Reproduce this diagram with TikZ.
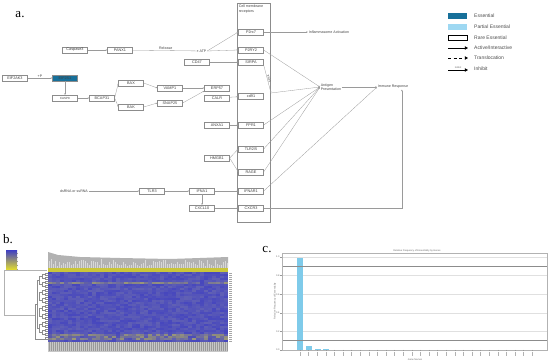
\documentclass[tikz,border=0pt]{standalone}
\usepackage{fontspec}
\setmainfont{Liberation Serif}
\setsansfont{Liberation Sans}
\usetikzlibrary{calc,positioning,arrows.meta}
\definecolor{essencial}{HTML}{17709A}
\definecolor{parcial}{HTML}{9ED8F2}
\definecolor{linha}{HTML}{9A9A9A}
\definecolor{hazul}{HTML}{4646BE}
\definecolor{hcinza}{HTML}{8080A8}
\definecolor{hamarelo}{HTML}{E6E02A}
\definecolor{barra}{HTML}{7FCBEA}

\begin{document}
\begin{tikzpicture}[x=1pt,y=-1pt,
    gene/.style={draw=black!45, line width=0.3pt, fill=white, minimum width=25pt, minimum height=5.5pt,
      inner sep=0pt, font=\sffamily\fontsize{3.8}{4}\selectfont, text=black!75},
    rotulo/.style={font=\sffamily\fontsize{3.6}{4.2}\selectfont, text=black!75, inner sep=0.6pt},
    painel/.style={font=\rmfamily\fontsize{13}{14}\selectfont, inner sep=0pt},
    minusc/.style={font=\sffamily\fontsize{2.4}{3}\selectfont, text=black!60, inner sep=0.3pt},
    legenda/.style={font=\sffamily\fontsize{5}{6}\selectfont, text=black!70, anchor=west, inner sep=0pt},
    seta/.style={-{Latex[length=1.6pt,width=1.5pt]}, line width=0.3pt, linha},
    setaleg/.style={-{Triangle[length=3.2pt,width=3.4pt]}, line width=0.9pt, black}]
  \useasboundingbox (0,0) rectangle (550,363);
  % painel a
  \node[painel] (pa) at (20,15) {a.};
  \node[draw=black!45, line width=0.3pt, minimum width=33pt, minimum height=219pt, anchor=north west, inner sep=0pt] (memb) at (237,3) {};
  \node[rotulo, align=left, anchor=north west] (membtxt) at (238,4.5) {Cell membrane\\receptors};
  \node[gene] (casp3) at (75,50) {Caspase3};
  \node[gene] (panx1) at (120,50) {PANX1};
  \node[rotulo] (atp) at (203,51) {ATP};
  \node[gene] (eif2ak3) at (15,78) {EIF2AK3};
  \node[gene, fill=essencial] (eif2s1) at (65,78) {EIF2S1};
  \node[gene, font=\sffamily\fontsize{3}{3.5}\selectfont] (casp8) at (65,98) {CASP8};
  \node[gene] (bcap31) at (102,98) {BCAP31};
  \node[gene] (bax) at (131,83) {BAX};
  \node[gene] (bak) at (131,107) {BAK};
  \node[gene] (vamp1) at (170,88) {VAMP1};
  \node[gene] (snap25) at (170,103) {SNAP25};
  \node[gene] (erp57) at (217,88) {ERP57};
  \node[gene] (calr) at (217,98) {CALR};
  \node[gene] (cd47) at (197,62) {CD47};
  \node[gene] (anxa1) at (217,125) {ANXA1};
  \node[gene] (hmgb1) at (217,158) {HMGB1};
  \node[gene] (ifna1) at (202,191) {IFNA1};
  \node[gene] (cxcl10) at (202,208) {CXCL10};
  \node[gene] (tlr3) at (152,191) {TLR3};
  \node[rotulo] (rna) at (74,191) {dsRNA or ssRNA};
  % receptores
  \node[gene] (p2rx7) at (251,32) {P2rx7};
  \node[gene] (p2ry2) at (251,50) {P2RY2};
  \node[gene] (sirpa) at (251,62) {SIRPA};
  \node[gene] (cd91) at (251,96) {cd91};
  \node[gene] (fpr1) at (251,125) {FPR1};
  \node[gene] (tlr25) at (251,149) {TLR2/5};
  \node[gene] (rage) at (251,172) {RAGE};
  \node[gene] (ifnar1) at (251,191) {IFNAR1};
  \node[gene] (cxcr3) at (251,208) {CXCR3};
  \coordinate (inib) at (271,93);
  \node[rotulo, anchor=west] (infl) at (308,32) {Inflammasome Activation};
  \node[rotulo, anchor=west, align=left] (antig) at (320,87) {Antigen\\Presentation};
  \node[rotulo, anchor=west] (imune) at (377,87) {Immune Response};
  % conexoes
  \draw[seta] (casp3) -- (panx1);
  \draw[seta] (panx1) -- node[rotulo, above] {Release} (atp);
  \draw[seta] (eif2ak3) -- node[rotulo, above] {+P} (eif2s1);
  \draw[seta] (eif2s1) -- (casp8);
  \draw[seta] (casp8) -- (bcap31);
  \draw[seta] (bcap31.east) -- (bax.west);
  \draw[seta] (bcap31.east) -- (bak.west);
  \draw[seta] (bax.east) -- (vamp1.west);
  \draw[seta] (bak.east) -- (snap25.west);
  \draw[seta] (vamp1) -- (erp57);
  \draw[seta] (snap25.east) -- (erp57.south west);
  \draw[seta] (calr) -- (cd91);
  \draw[seta] (atp.east) -- (p2rx7.west);
  \draw[seta] (atp.east) -- (p2ry2.west);
  \draw[seta] (cd47) -- (sirpa);
  \draw[seta] (p2rx7) -- (infl);
  \draw[seta] (p2ry2.east) -- (antig.west);
  \draw[seta] (sirpa.south east) -- node[rotulo, sloped, above, font=\sffamily\fontsize{2.8}{3}\selectfont] {Inhibit} (inib);
  \draw[seta] (inib) -- (antig.west);
  \draw[seta] (anxa1) -- (fpr1);
  \draw[seta] (hmgb1.east) -- (tlr25.west);
  \draw[seta] (hmgb1.east) -- (rage.west);
  \draw[seta] (fpr1.east) -- (antig.west);
  \draw[seta] (tlr25.east) -- (antig.west);
  \draw[seta] (rage.east) -- (antig.west);
  \draw[seta] (antig.east) -- (imune.west);
  \draw[seta] (ifnar1.east) -- (imune.west);
  \draw[seta] (rna) -- (tlr3);
  \draw[seta] (tlr3) -- (ifna1);
  \draw[seta] (ifna1) -- (ifnar1);
  \draw[seta] (ifna1) -- (cxcl10);
  \draw[seta] (cxcl10) -- (cxcr3);
  \draw[seta] (cxcr3.east) -| ([xshift=9pt]imune.south);
  % legenda
  \node[fill=essencial, minimum width=19pt, minimum height=5.5pt, inner sep=0pt] (lg1) at (457.5,16) {};
  \node[fill=parcial, minimum width=19pt, minimum height=5.5pt, inner sep=0pt] (lg2) at (457.5,27) {};
  \node[draw=black, line width=0.8pt, minimum width=19pt, minimum height=5pt, inner sep=0pt] (lg3) at (457.5,38) {};
  \coordinate (lg4a) at (448,48); \coordinate (lg4b) at (468,48);
  \coordinate (lg5a) at (448,58); \coordinate (lg5b) at (468,58);
  \coordinate (lg6a) at (448,70); \coordinate (lg6b) at (468,70);
  \draw[setaleg] (lg4a) -- (lg4b);
  \draw[setaleg, dashed, dash pattern=on 3pt off 2.5pt] (lg5a) -- (lg5b);
  \draw[setaleg] (lg6a) -- node[minusc, above=0.6pt] {Inhibit} (lg6b);
  \node[legenda] at (474,16) {Essential};
  \node[legenda] at (474,27) {Partial Essential};
  \node[legenda] at (474,38) {Rare Essential};
  \node[legenda] at (474,48) {Active/Interactive};
  \node[legenda] at (474,58) {Translocation};
  \node[legenda] at (474,69) {Inhibit};
  % painel b
  \node[painel] (pb) at (8,239) {b.};
  \shade[top color=hazul, bottom color=hamarelo] (6,251) rectangle (17,270);
  \foreach \t in {253,257,...,269} { \draw[black!40, line width=0.2pt] (17,\t) -- ++(1,0); }
  \draw[black!30, line width=0.3pt] (47,270) -- (4,270) -- (4,315) -- (36,315);
  \fill[black!30] (48,268) -- (48,252) -- (58,255) -- (80,257) -- (120,258) -- (170,259) -- (200,258) -- (228,257) -- (228,268) -- cycle;
  \pgfmathsetseed{11}
  \foreach \c in {0,...,89} {
    \pgfmathsetmacro\h{2+7*rnd}
    \draw[white, line width=0.3pt, opacity=0.5] (48.8+2*\c,268) -- ++(0,-\h);
  }
  \fill[hamarelo!85!black!90] (48,268) rectangle (228,272);
  \foreach \r in {0,...,34} {
    \foreach \c in {0,...,44} {
      \pgfmathsetmacro\v{int(55+45*rnd)}
      \fill[hazul!\v!hcinza] (48+4*\c,272+2*\r) rectangle ++(4,2);
    }
  }
  \foreach \r in {5,31,32,33} {
    \foreach \c in {0,...,44} {
      \pgfmathsetmacro\o{0.45*rnd}
      \fill[hamarelo, opacity=\o] (48+4*\c,272+2*\r) rectangle ++(4,2);
    }
  }
  \fill[black!22] (48,342) rectangle (228,352);
  \foreach \c in {0,...,89} { \draw[black!40, line width=0.25pt] (48.8+2*\c,342.5) -- ++(0,9); }
  \foreach \r in {0,...,34} { \draw[black!35, line width=0.25pt] (229,273+2*\r) -- ++(3,0); }
  \foreach \r in {0,...,16} {
    \draw[black!45, line width=0.25pt] (48,273+4*\r) -- (45,273+4*\r) -- (45,275+4*\r) -- (48,275+4*\r);
  }
  \foreach \r in {0,...,7} {
    \draw[black!45, line width=0.25pt] (45,274+8*\r) -- (42,274+8*\r) -- (42,278+8*\r) -- (45,278+8*\r);
  }
  \foreach \r in {0,...,3} {
    \draw[black!45, line width=0.25pt] (42,276+16*\r) -- (39,276+16*\r) -- (39,284+16*\r) -- (42,284+16*\r);
  }
  \draw[black!45, line width=0.25pt] (39,280) -- (37,280) -- (37,328) -- (39,328);
  \draw[black!45, line width=0.25pt] (37,304) -- (35,304) -- (35,339) -- (48,339);
  % painel c
  \node[painel] (pc) at (267,250) {c.};
  \node[minusc] (titc) at (417,250.5) {Relative Frequency of Essentiality by Genes};
  \foreach \y in {257,275.6,294.2,312.8,331.4} { \draw[black!12, line width=0.3pt] (282,\y) -- (547,\y); }
  \foreach \y/\l in {257/1.0,275.6/0.8,294.2/0.6,312.8/0.4,331.4/0.2,350/0.0} {
    \draw[black!40, line width=0.25pt] (280,\y) -- (282,\y);
    \node[minusc, anchor=east] at (280,\y) {\l};
  }
  \fill[barra] (297,258) rectangle (303,350);
  \fill[barra] (306,346) rectangle (312,350);
  \fill[barra] (314.5,349) rectangle (320.5,350);
  \fill[barra] (323,349.5) rectangle (329,350);
  \draw[black!45, line width=0.8pt] (282,266) -- (547,266);
  \draw[black!45, line width=0.8pt] (282,340) -- (547,340);
  \draw[black!30, line width=0.3pt] (282,253) rectangle (547,350);
  \foreach \i in {0,...,27} {
    \draw[black!40, line width=0.25pt] (300+8.6*\i,350) -- ++(0,1.5);
    \draw[black!30, line width=0.4pt] (300+8.6*\i,352.5) -- ++(0,3.5);
  }
  \node[minusc, rotate=90] (yc) at (275,301) {Relative Frequency of Essentiality};
  \node[minusc] (xc) at (415,360) {Gene Names};
\end{tikzpicture}
\end{document}
